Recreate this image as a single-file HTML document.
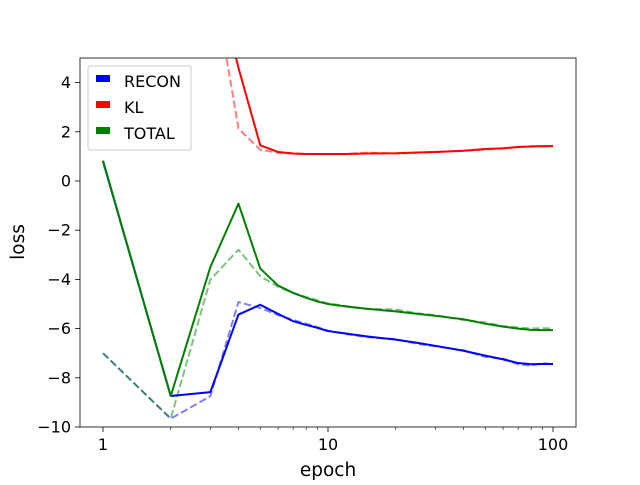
<!DOCTYPE html>
<html><head><meta charset="utf-8"><style>
body{margin:0;background:#fff}
svg text{font-family:"DejaVu Sans","Liberation Sans",sans-serif}
</style></head><body>
<svg id="chart" width="640" height="480" viewBox="0 0 640 480" xmlns="http://www.w3.org/2000/svg">
<defs><clipPath id="clip"><rect x="80" y="58" width="496" height="369"/></clipPath></defs>
<rect x="0" y="0" width="640" height="480" fill="#fff"/>
<g id="series" clip-path="url(#clip)"></g>
<rect x="80" y="58" width="496" height="369" fill="none" stroke="#000" stroke-width="0.8"/>
<g id="axes"></g>
<text x="328" y="476" font-size="18.5" text-anchor="middle">epoch</text>
<text x="0" y="0" font-size="18.5" text-anchor="middle" transform="translate(24,242) rotate(-90)">loss</text>
<g>
<rect x="88" y="66" width="103" height="84" rx="2" fill="#fff" fill-opacity="0.8" stroke="#ccc" stroke-width="1"/>
<rect x="96" y="75" width="14" height="7" fill="#0000ff"/>
<text x="124" y="87" font-size="16">RECON</text>
<rect x="96" y="101" width="14" height="7" fill="#ff0000"/>
<text x="124" y="113" font-size="16">KL</text>
<rect x="96" y="127" width="14" height="7" fill="#008000"/>
<text x="124" y="139" font-size="16">TOTAL</text>
</g>
</svg>
<script>
const epochs=[1,2,3,4,5,6,7,8,9,10,12,15,20,25,30,40,50,60,70,80,90,100];
const reconTrain=[0.8,-8.74,-8.58,-5.43,-5.03,-5.4,-5.7,-5.85,-5.97,-6.1,-6.2,-6.32,-6.45,-6.58,-6.7,-6.9,-7.1,-7.25,-7.4,-7.45,-7.44,-7.44];
const reconVal=[-7,-9.66,-8.75,-4.92,-5.16,-5.45,-5.65,-5.8,-5.95,-6.08,-6.22,-6.35,-6.43,-6.62,-6.72,-6.88,-7.15,-7.22,-7.45,-7.5,-7.4,-7.45];
const totalTrain=[0.83,-8.74,-3.5,-0.92,-3.56,-4.25,-4.55,-4.75,-4.9,-5.0,-5.1,-5.2,-5.3,-5.4,-5.48,-5.62,-5.8,-5.92,-6.0,-6.05,-6.06,-6.06];
const totalVal=[-7,-9.66,-4.01,-2.79,-3.87,-4.3,-4.55,-4.72,-4.85,-4.98,-5.08,-5.2,-5.22,-5.38,-5.45,-5.65,-5.75,-5.9,-5.95,-6.0,-5.98,-6.0];
const klTrain=[20,12,9.2,4.6,1.45,1.18,1.12,1.1,1.1,1.1,1.1,1.12,1.13,1.16,1.18,1.23,1.3,1.33,1.38,1.4,1.42,1.42];
const klVal=[20,12,8.9,2.13,1.27,1.15,1.12,1.1,1.1,1.1,1.1,1.15,1.12,1.15,1.18,1.22,1.28,1.32,1.38,1.42,1.4,1.42];
const yTicks=[-10,-8,-6,-4,-2,0,2,4];
const xTicks=[1,10,100];
const xMinor=[2,3,4,5,6,7,8,9,20,30,40,50,60,70,80,90];

const NS="http://www.w3.org/2000/svg";
function xs(v){return 103+225*Math.log10(v);}
function ys(v){return 181-24.6*v;}
const series=document.getElementById('series');
const axes=document.getElementById('axes');
function mk(tag,attrs,parent){const e=document.createElementNS(NS,tag);for(const k in attrs)e.setAttribute(k,attrs[k]);parent.appendChild(e);return e;}
function line(vals,color,dashed,name){
  const d=vals.map((v,i)=>(i?'L':'M')+xs(epochs[i]).toFixed(2)+','+ys(v).toFixed(2)).join(' ');
  const p=mk('path',{d:d,fill:'none',stroke:color,'stroke-width':2,'stroke-linejoin':'round'},series);
  if(dashed){p.setAttribute('stroke-dasharray','7.4,3.2');p.setAttribute('stroke-opacity','0.5');}
  
  
}
line(reconVal,'#0000ff',true,'recon-val-line');
line(klVal,'#ff0000',true,'kl-val-line');
line(totalVal,'#008000',true,'total-val-line');
line(reconTrain,'#0000ff',false,'recon-train-line');
line(klTrain,'#ff0000',false,'kl-train-line');
line(totalTrain,'#008000',false,'total-train-line');
yTicks.forEach(v=>{
  const y=ys(v);
  mk('line',{x1:80,x2:75,y1:y,y2:y,stroke:'#000','stroke-width':0.8},axes);
  const t=mk('text',{x:71,y:y+5.5,'font-size':16,'text-anchor':'end'},axes);
  t.textContent=(v<0?'\u2212':'')+Math.abs(v);
  
  
});
xTicks.forEach(v=>{
  const x=xs(v);
  mk('line',{x1:x,x2:x,y1:427,y2:432,stroke:'#000','stroke-width':0.8},axes);
  const t=mk('text',{x:x,y:450,'font-size':16,'text-anchor':'middle'},axes);
  t.textContent=String(v);
  
  
});
xMinor.forEach(v=>{
  const x=xs(v);
  mk('line',{x1:x,x2:x,y1:427,y2:430,stroke:'#000','stroke-width':0.6},axes);
});
</script>
</body></html>
